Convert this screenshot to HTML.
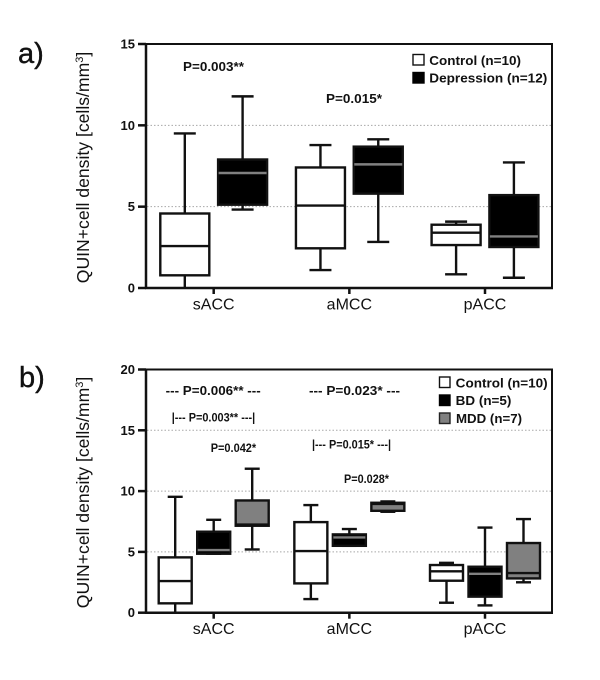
<!DOCTYPE html>
<html lang="en">
<head>
<meta charset="utf-8">
<title>QUIN+ cell density box plots</title>
<style>
html,body{margin:0;padding:0;background:#fff;width:600px;height:680px;overflow:hidden}
svg{display:block;font-family:"Liberation Sans",Arial,sans-serif}
.anno{font-weight:bold;fill:#111}
.leg{font-weight:bold;font-size:13px;fill:#111}
.ytick{font-weight:bold;font-size:13px;fill:#111;text-anchor:end}
.cat{font-size:16px;fill:#111;text-anchor:middle}
.ytitle{font-size:17.6px;fill:#111;text-anchor:middle}
.plabel{font-size:29px;fill:#111;stroke:#111;stroke-width:.4}
</style>
</head>
<body>
<svg id="fig" xmlns="http://www.w3.org/2000/svg" width="600" height="680" viewBox="0 0 600 680">
  <rect x="0" y="0" width="600" height="680" fill="#fff"/>
  <g id="panel-a"></g>
  <g id="panel-b"></g>

  <text class="plabel" x="18" y="63">a)</text>
  <text class="plabel" x="19" y="387">b)</text>

  <text class="ytitle" transform="translate(89,167.5) rotate(-90)">QUIN+cell density [cells/mm<tspan font-size="11" dy="-6">3</tspan><tspan dy="6">]</tspan></text>
  <text class="ytitle" transform="translate(89,492.5) rotate(-90)">QUIN+cell density [cells/mm<tspan font-size="11" dy="-6">3</tspan><tspan dy="6">]</tspan></text>

  <text class="anno" font-size="12.5" x="183" y="71" textLength="61" lengthAdjust="spacingAndGlyphs">P=0.003**</text>
  <text class="anno" font-size="12.5" x="326" y="103" textLength="56" lengthAdjust="spacingAndGlyphs">P=0.015*</text>

  <rect x="413" y="54.5" width="11" height="10.5" fill="#fff" stroke="#111" stroke-width="1.4"/>
  <text class="leg" x="429.3" y="65" textLength="91.7" lengthAdjust="spacingAndGlyphs">Control (n=10)</text>
  <rect x="413" y="72.5" width="11" height="10.5" fill="#000" stroke="#000" stroke-width="1.4"/>
  <text class="leg" x="429.3" y="82.5" textLength="118" lengthAdjust="spacingAndGlyphs">Depression (n=12)</text>

  <text class="anno" font-size="13" x="165.7" y="395" textLength="95" lengthAdjust="spacingAndGlyphs">--- P=0.006** ---</text>
  <text class="anno" font-size="13" x="309" y="395" textLength="91" lengthAdjust="spacingAndGlyphs">--- P=0.023* ---</text>
  <text class="anno" font-size="11.5" x="171.7" y="421.5" textLength="83.5" lengthAdjust="spacingAndGlyphs">|--- P=0.003** ---|</text>
  <text class="anno" font-size="11.5" x="312" y="448.5" textLength="79" lengthAdjust="spacingAndGlyphs">|--- P=0.015* ---|</text>
  <text class="anno" font-size="11.5" x="210.7" y="452" textLength="45.5" lengthAdjust="spacingAndGlyphs">P=0.042*</text>
  <text class="anno" font-size="11.5" x="344" y="483" textLength="45" lengthAdjust="spacingAndGlyphs">P=0.028*</text>

  <rect x="439.5" y="377" width="10.5" height="10.5" fill="#fff" stroke="#111" stroke-width="1.4"/>
  <text class="leg" x="455.7" y="387.5" textLength="92" lengthAdjust="spacingAndGlyphs">Control (n=10)</text>
  <rect x="439.5" y="395" width="10.5" height="10.5" fill="#000" stroke="#000" stroke-width="1.4"/>
  <text class="leg" x="455.7" y="405" textLength="55.7" lengthAdjust="spacingAndGlyphs">BD (n=5)</text>
  <rect x="439.5" y="413" width="10.5" height="10.5" fill="#808080" stroke="#222" stroke-width="1.4"/>
  <text class="leg" x="456" y="423" textLength="66" lengthAdjust="spacingAndGlyphs">MDD (n=7)</text>
</svg>
<script>
// Shared categories
var categories = ['sACC', 'aMCC', 'pACC'];

// Panel a: axis and series values, each row [low, q1, median, q3, high]
var panelATicks = [0, 5, 10, 15];
var panelAGrid = [5, 10];
var panelAControl = [
  [0, 0.78, 2.58, 4.58, 9.5],
  [1.1, 2.44, 5.07, 7.41, 8.79],
  [0.84, 2.64, 3.4, 3.89, 4.08]
];
var panelADepression = [
  [4.82, 5.12, 7.07, 7.9, 11.78],
  [2.83, 5.8, 7.6, 8.69, 9.14],
  [0.63, 2.52, 3.17, 5.71, 7.72]
];

// Panel b: axis and series values, each row [low, q1, median, q3, high]
var panelBTicks = [0, 5, 10, 15, 20];
var panelBGrid = [5, 10, 15];
var panelBControl = [
  [0, 0.77, 2.6, 4.55, 9.53],
  [1.12, 2.41, 5.07, 7.45, 8.85],
  [0.82, 2.63, 3.4, 3.92, 4.1]
];
var panelBBd = [
  [4.85, 4.85, 5.15, 6.66, 7.64],
  [5.5, 5.5, 6.19, 6.44, 6.88],
  [0.6, 1.32, 3.2, 3.78, 7.0]
];
var panelBMdd = [
  [5.2, 7.15, 7.25, 9.23, 11.84],
  [8.3, 8.38, 8.95, 9.04, 9.15],
  [2.5, 2.82, 3.26, 5.73, 7.7]
];

var NS = 'http://www.w3.org/2000/svg';
function mk(parent, tag, attrs) {
  var el = document.createElementNS(NS, tag);
  for (var k in attrs) el.setAttribute(k, attrs[k]);
  parent.appendChild(el);
  return el;
}
function xCat(i) { return 213.7 + 135.65 * i; }

function drawPanel(root, prefix, cfg) {
  var maxV = cfg.ticks[cfg.ticks.length - 1];
  function y(v) { return cfg.bottom - (v / maxV) * (cfg.bottom - cfg.top); }

  cfg.grid.forEach(function (g) {
    var line = mk(root, 'line', {x1: 147, x2: 551, y1: y(g), y2: y(g), stroke: '#a8a8a8', 'stroke-width': 1, 'stroke-dasharray': '1.5 2'});
    
    
  });

  cfg.series.forEach(function (s) {
    s.values.forEach(function (row, i) {
      var cx = xCat(i) + s.offset;
      var g = mk(root, 'g', {});
      
      
      var sw = cfg.stroke;
      mk(g, 'line', {x1: cx, x2: cx, y1: y(row[0]), y2: y(row[4]), stroke: '#111', 'stroke-width': sw});
      mk(g, 'line', {x1: cx - cfg.cap / 2, x2: cx + cfg.cap / 2, y1: y(row[4]), y2: y(row[4]), stroke: '#111', 'stroke-width': sw});
      if (row[0] > 0) mk(g, 'line', {x1: cx - cfg.cap / 2, x2: cx + cfg.cap / 2, y1: y(row[0]), y2: y(row[0]), stroke: '#111', 'stroke-width': sw});
      mk(g, 'rect', {x: cx - cfg.boxW / 2, y: y(row[3]), width: cfg.boxW, height: y(row[1]) - y(row[3]), fill: s.fill, stroke: '#111', 'stroke-width': sw});
      mk(g, 'line', {x1: cx - cfg.boxW / 2 + 0.5, x2: cx + cfg.boxW / 2 - 0.5, y1: y(row[2]), y2: y(row[2]), stroke: s.median, 'stroke-width': sw});
    });
  });

  var frame = mk(root, 'path', {d: 'M146 ' + cfg.top + 'H552V' + cfg.bottom, fill: 'none', stroke: '#111', 'stroke-width': 2});
  
  
  var yAxis = mk(root, 'line', {x1: 146, x2: 146, y1: cfg.top - 1, y2: cfg.bottom + 1, stroke: '#111', 'stroke-width': 2.5});
  
  
  var xAxis = mk(root, 'line', {x1: 145, x2: 553, y1: cfg.bottom, y2: cfg.bottom, stroke: '#111', 'stroke-width': 2.5});
  
  

  cfg.ticks.forEach(function (t) {
    var tick = mk(root, 'line', {x1: 138, x2: 146, y1: y(t), y2: y(t), stroke: '#111', 'stroke-width': 2.5});
    
    
    var label = mk(root, 'text', {'class': 'ytick', x: 135, y: y(t) + 4.5});
    label.textContent = t;
    
    
  });

  categories.forEach(function (c, i) {
    var tick = mk(root, 'line', {x1: xCat(i), x2: xCat(i), y1: cfg.bottom, y2: cfg.bottom + 6, stroke: '#111', 'stroke-width': 2.5});
    
    
    var label = mk(root, 'text', {'class': 'cat', x: xCat(i), y: cfg.bottom + 21.5});
    label.textContent = c;
    
    
  });
}

drawPanel(document.getElementById('panel-a'), 'panel-a', {
  top: 44, bottom: 288, ticks: panelATicks, grid: panelAGrid, boxW: 49, cap: 22, stroke: 2.4,
  series: [
    {name: 'control', values: panelAControl, offset: -28.9, fill: '#fff', median: '#111'},
    {name: 'depression', values: panelADepression, offset: 28.9, fill: '#000', median: '#808080'}
  ]
});
drawPanel(document.getElementById('panel-b'), 'panel-b', {
  top: 369.5, bottom: 612.7, ticks: panelBTicks, grid: panelBGrid, boxW: 33, cap: 15, stroke: 2.4,
  series: [
    {name: 'control', values: panelBControl, offset: -38.5, fill: '#fff', median: '#111'},
    {name: 'bd', values: panelBBd, offset: 0, fill: '#000', median: '#808080'},
    {name: 'mdd', values: panelBMdd, offset: 38.5, fill: '#808080', median: '#111'}
  ]
});
</script>
</body>
</html>
